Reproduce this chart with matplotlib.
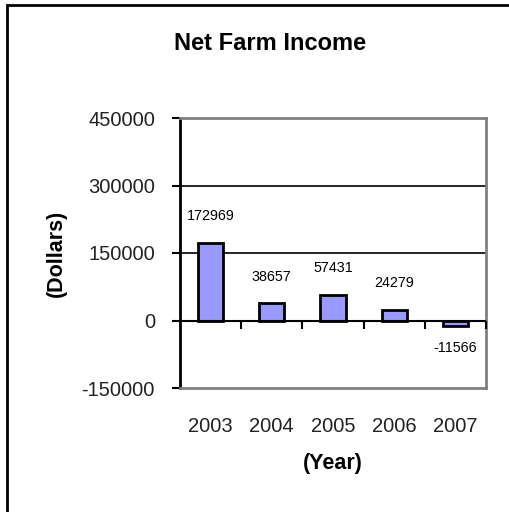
import numpy as np
import matplotlib
matplotlib.use('Agg')
import matplotlib.pyplot as plt
from matplotlib.patches import Rectangle

plt.rcParams['font.family'] = ['Liberation Sans', 'DejaVu Sans']

# data
years = ['2003', '2004', '2005', '2006', '2007']
income = [172969, 38657, 57431, 24279, -11566]
y_ticks = [-150000, 0, 150000, 300000, 450000]

fig = plt.figure(figsize=(5.09, 5.12), dpi=100)
ax = fig.add_axes([180 / 509, 1 - 388 / 512, (486 - 180) / 509, (388 - 118) / 512])

x = np.arange(len(years))
ax.bar(x, income, width=0.41, color='#9999FF', edgecolor='black', linewidth=2, zorder=3)

for xi, v in zip(x, income):
    off = 19 if v >= 0 else -16
    ax.annotate(str(v), (xi, v), xytext=(0, off), textcoords='offset points',
                ha='center', va='center', fontsize=10.3)

ax.set_xlim(-0.5, len(years) - 0.5)
ax.set_ylim(-150000, 450000)
ax.set_yticks(y_ticks)
ax.set_yticklabels([str(t) for t in y_ticks], fontsize=14.5, color='#222222')
ax.tick_params(axis='y', direction='out', length=6, width=1.5, pad=12)

ax.set_xticks(x)
ax.set_xticklabels(years, fontsize=14.5, color='#222222')
ax.tick_params(axis='x', length=0, pad=21)

# grid lines and zero axis
for g in [150000, 300000]:
    ax.axhline(g, color='black', linewidth=1.2, zorder=1)
ax.axhline(0, color='black', linewidth=1.5, zorder=4)
bounds = np.arange(len(years)) + 0.5
ax.plot(bounds, np.zeros(len(bounds)), linestyle='none', marker=3, markersize=6,
        markeredgewidth=1.5, color='black', zorder=4, clip_on=False)

for side in ['top', 'right', 'bottom']:
    ax.spines[side].set_color('#808080')
    ax.spines[side].set_linewidth(2)
ax.spines['left'].set_color('black')
ax.spines['left'].set_linewidth(2)

ax.set_xlabel('(Year)', fontsize=15.5, fontweight='bold', labelpad=12)
ax.set_ylabel('(Dollars)', fontsize=15.5, fontweight='bold')
ax.yaxis.set_label_coords(-0.369, 0.5)

fig.text(270 / 509, 1 - 43 / 512, 'Net Farm Income', ha='center', va='center',
         fontsize=17, fontweight='bold')

fig.patches.append(Rectangle((7 / 509, -0.2), 1.2, 0.2 + 1 - 5 / 512,
                             transform=fig.transFigure, fill=False,
                             edgecolor='black', linewidth=2))

fig.savefig('out.png', dpi=100)
